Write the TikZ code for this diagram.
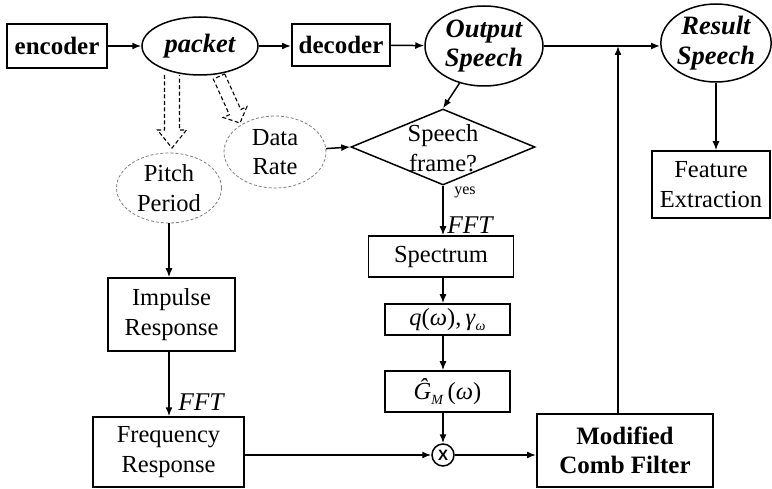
\documentclass[tikz,border=0pt]{standalone}
\usepackage{fontspec}
\setmainfont{Liberation Serif}
\newfontfamily\sansx{Liberation Sans}
\usetikzlibrary{shapes.geometric,arrows.meta,calc}
\begin{document}
\begin{tikzpicture}[x=1pt,y=-1pt,
 every node/.style={font=\fontsize{24.5}{29.5}\selectfont, align=center, inner sep=0pt},
 box/.style={draw, line width=1.5pt, rectangle},
 bbox/.style={draw, line width=2pt, rectangle, font=\fontsize{25}{29.5}\selectfont\bfseries},
 ell/.style={draw, line width=1.5pt, ellipse, font=\fontsize{26.5}{29.5}\selectfont\bfseries\itshape},
 dell/.style={draw=gray, line width=0.8pt, ellipse, dash pattern=on 3pt off 2pt},
 arr/.style={-{Latex[length=9pt,width=7pt]}, line width=1.5pt},
 hollow/.style={draw, line width=1.1pt, dash pattern=on 4pt off 2.5pt, line join=miter},
 lbl/.style={font=\fontsize{25.5}{25}\selectfont\itshape}
]
\useasboundingbox (0,0) rectangle (772,489);

\node[bbox, minimum width=100, minimum height=44] (enc) at (57,46) {encoder};
\node[ell, minimum width=116, minimum height=58] (pk) at (200,46) {packet};
\node[bbox, minimum width=98, minimum height=42] (dec) at (341,45) {decoder};
\node[ell, minimum width=118, minimum height=80] (out) at (484,46) {Output\\Speech};
\node[ell, minimum width=110, minimum height=78] (res) at (716,43) {Result\\Speech};
\node[box, minimum width=118, minimum height=67] (fe) at (711,184.5) {Feature\\Extraction};

\node[dell, minimum width=105, minimum height=70] (pp) at (169,188) {Pitch\\Period};
\node[dell, minimum width=102, minimum height=72] (dr) at (275,152) {Data\\Rate};

\node[diamond, draw, line width=1.5pt, minimum width=184, minimum height=76] (sf) at (443,147) {};
\node (sft) at (443,148) {Speech\\frame?};
\node[font=\fontsize{16}{16}\selectfont] (yes) at (465,192) {yes};

\node[box, minimum width=145, minimum height=41] (sp) at (441,256.5) {Spectrum};
\node[box, minimum width=125, minimum height=31] (q) at (447.5,319.5)
  {\textit{q}(\textit{ω}),\,\textit{γ}\raisebox{-5pt}{\fontsize{14}{14}\selectfont\textit{ω}}};
\node[box, minimum width=125, minimum height=41] (g) at (447.5,391.5)
  {\textit{Ĝ}\raisebox{-5pt}{\fontsize{14}{14}\selectfont\textit{M}}\,(\textit{ω})};
\node[circle, draw, line width=1.5pt, minimum size=22, font=\fontsize{15}{15}\selectfont\sansx\bfseries] (x) at (443,455) {X};
\node[bbox, minimum width=176, minimum height=73] (cf) at (625,450.5) {Modified\\Comb Filter};

\node[box, minimum width=127, minimum height=73] (ir) at (171.5,314.5) {Impulse\\Response};
\node[box, minimum width=151, minimum height=70] (fr) at (168.5,452) {Frequency\\Response};

\node[lbl] (f1) at (201,402) {FFT};
\node[lbl] (f2) at (470,225) {FFT};

\coordinate (jn) at (618,46);

% connectors
\draw[arr] (enc) -- (pk);
\draw[arr] (pk.east) -- (pk.east -| dec.west);
\draw[arr] (dec) -- (out);
\draw[arr] (out.east) -- (out.east -| res.west);
\draw[arr] (res.south) -- (res.south |- fe.north);
\draw[arr] (out) -- (sf.north);
\draw[arr] (dr) -- (sf.west);
\draw[arr] (sf.south) -- (sf.south |- sp.north);
\draw[arr] (sf.south |- sp.south) -- (sf.south |- q.north);
\draw[arr] (sf.south |- q.south) -- (sf.south |- g.north);
\draw[arr] (sf.south |- g.south) -- (x.north);
\draw[arr] (fr.east |- x.west) -- (x.west);
\draw[arr] (x.east) -- (cf.west |- x.east);
\draw[arr] (cf.north -| jn) -- (jn);
\draw[arr] (pp.south) -- (pp.south |- ir.north);
\draw[arr] (pp.south |- ir.south) -- (pp.south |- fr.north);

% hollow dashed arrows
\draw[hollow] (164.5,75) -- (164.5,130) -- (157.5,130) -- (172,148) -- (186.5,130) -- (179.5,130) -- (179.5,75);
\draw[hollow] (224.7,73.9) -- (240.8,109.5) -- (246.9,106.7) -- (240,123) -- (223.2,117.5) -- (229.4,114.7) -- (213.3,79.1) -- cycle;
\end{tikzpicture}
\end{document}
